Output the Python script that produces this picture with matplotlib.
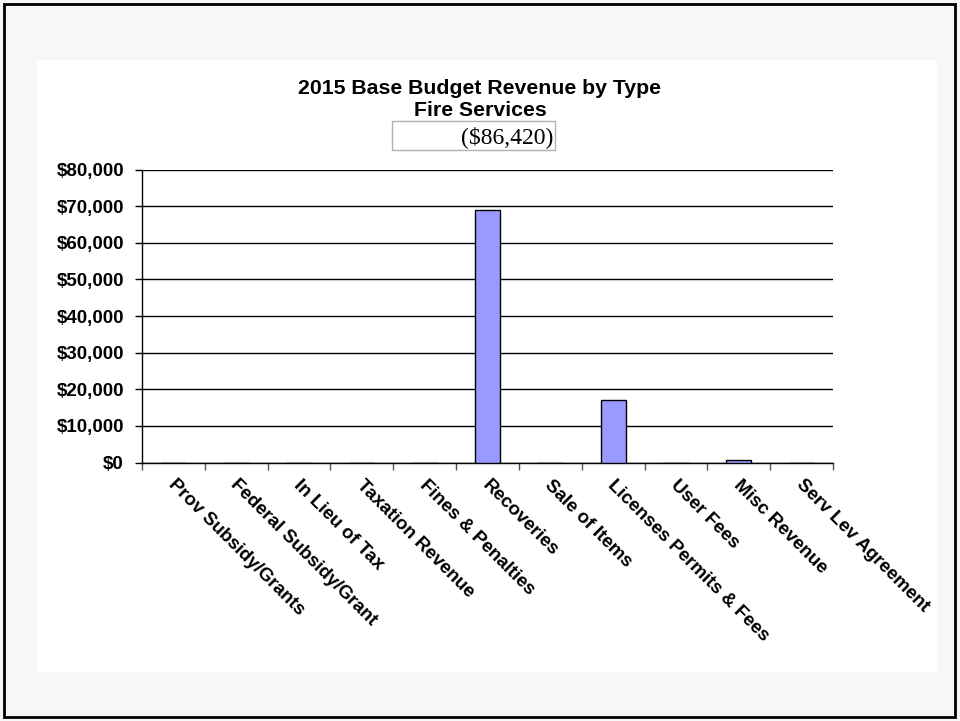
import matplotlib.pyplot as plt
from matplotlib.patches import Rectangle
from matplotlib.ticker import FuncFormatter

# revenue categories and 2015 base budget amounts ($)
categories = ["Prov Subsidy/Grants", "Federal Subsidy/Grant", "In Lieu of Tax",
              "Taxation Revenue", "Fines & Penalties", "Recoveries", "Sale of Items",
              "Licenses Permits & Fees", "User Fees", "Misc Revenue", "Serv Lev Agreement"]
amounts = [0, 0, 0, 0, 0, 68850, 0, 17000, 0, 570, 0]
total_label = "($86,420)"
yticks = [0, 10000, 20000, 30000, 40000, 50000, 60000, 70000, 80000]

W, H = 960, 721
fig = plt.figure(figsize=(W / 100, H / 100), dpi=100, facecolor="#f7f7f7")

# white chart area and black outer frame
fig.patches.append(Rectangle((37 / W, 1 - 672 / H), 900 / W, 612 / H,
                             transform=fig.transFigure, facecolor="white",
                             edgecolor="none", zorder=-2))
fig.patches.append(Rectangle((4 / W, 1 - 717 / H), 951 / W, 713 / H,
                             transform=fig.transFigure, facecolor="none",
                             edgecolor="black", linewidth=2, zorder=5))

ax = fig.add_axes([142 / W, 1 - 462.5 / H, 691 / W, 293 / H])
ax.set_facecolor("white")
x = list(range(len(categories)))
ax.bar(x, amounts, width=0.4, color="#9999ff", edgecolor="black", linewidth=1, zorder=3)

ax.set_xlim(-0.5, len(categories) - 0.5)
ax.set_ylim(0, 80000)
ax.set_yticks(yticks)
ax.yaxis.set_major_formatter(FuncFormatter(lambda v, p: "${:,.0f}".format(v)))
ax.grid(axis="y", color="black", linewidth=1, zorder=1)
ax.set_axisbelow(True)

for s in ["top", "right"]:
    ax.spines[s].set_visible(False)
ax.spines["left"].set_linewidth(1)
ax.spines["bottom"].set_linewidth(1)

# ticks sit on category boundaries
ax.set_xticks([i - 0.5 for i in range(len(categories) + 1)])
ax.set_xticklabels([])
ax.tick_params(axis="x", length=5, width=1, color="#555555", direction="out")
ax.tick_params(axis="y", length=5, width=1, labelsize=13.5, direction="out", pad=8)
for lab in ax.get_yticklabels():
    lab.set_fontweight("bold")
    lab.set_fontfamily("Liberation Sans")

for i, name in enumerate(categories):
    ax.text(i + 0.05, -3800, name, rotation=-45, rotation_mode="anchor",
            ha="left", va="top", fontsize=13.5, fontweight="bold",
            family="Liberation Sans")

fig.text(0.5, 1 - 89 / H, "2015 Base Budget Revenue by Type", ha="center", va="center",
         fontsize=15.3, fontweight="bold", family="Liberation Sans")
fig.text(0.5, 1 - 110 / H, "Fire Services", ha="center", va="center",
         fontsize=15.3, fontweight="bold", family="Liberation Sans")

fig.patches.append(Rectangle((392 / W, 1 - 150 / H), 163 / W, 29 / H,
                             transform=fig.transFigure, facecolor="white",
                             edgecolor="#b0b0b0", linewidth=1, zorder=2))
fig.text(553 / W, 1 - 137 / H, total_label, ha="right", va="center",
         fontsize=17, family="Liberation Serif")

fig.savefig("out.png", dpi=100, facecolor=fig.get_facecolor())
